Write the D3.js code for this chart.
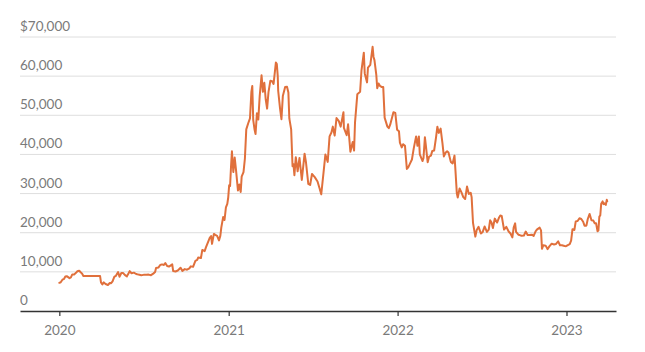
<!DOCTYPE html>
<html>
<head>
<meta charset="utf-8">
<script src="https://cdn.jsdelivr.net/npm/d3@7"></script>
<style>
  body { margin: 0; background: #fff; }
  svg { display: block; }
</style>
</head>
<body>
<div id="chart"><svg width="645" height="352"></svg></div>
<script>

// Bitcoin closing price
const priceDates = [
  "2020-01-01","2020-01-04","2020-01-08","2020-01-11","2020-01-14","2020-01-17","2020-01-20","2020-01-23","2020-01-26","2020-01-29",
  "2020-02-02","2020-02-06","2020-02-09","2020-02-13","2020-02-16","2020-02-19","2020-02-22","2020-03-29","2020-03-31","2020-04-03",
  "2020-04-06","2020-04-10","2020-04-15","2020-04-19","2020-04-22","2020-04-25","2020-04-29","2020-05-02","2020-05-07","2020-05-10",
  "2020-05-14","2020-05-18","2020-05-22","2020-05-26","2020-05-30","2020-06-01","2020-06-05","2020-06-10","2020-06-15","2020-06-20",
  "2020-06-26","2020-07-01","2020-07-07","2020-07-12","2020-07-17","2020-07-22","2020-07-26","2020-07-28","2020-08-02","2020-08-06",
  "2020-08-10","2020-08-14","2020-08-17","2020-08-21","2020-08-25","2020-09-01","2020-09-03","2020-09-08","2020-09-13","2020-09-19",
  "2020-09-23","2020-09-28","2020-10-03","2020-10-08","2020-10-11","2020-10-16","2020-10-21","2020-10-25","2020-10-27","2020-11-02",
  "2020-11-05","2020-11-10","2020-11-13","2020-11-18","2020-11-21","2020-11-24","2020-11-26","2020-11-30","2020-12-03","2020-12-07",
  "2020-12-11","2020-12-14","2020-12-16","2020-12-20","2020-12-23","2020-12-26","2020-12-29","2020-12-31",
  "2021-01-02","2021-01-04","2021-01-06","2021-01-08","2021-01-11","2021-01-14","2021-01-17","2021-01-21","2021-01-24","2021-01-27",
  "2021-01-29","2021-02-02","2021-02-05","2021-02-08","2021-02-12","2021-02-16","2021-02-19","2021-02-21","2021-02-23","2021-02-26",
  "2021-02-28","2021-03-03","2021-03-06","2021-03-09","2021-03-13","2021-03-16","2021-03-19","2021-03-22","2021-03-25","2021-03-28",
  "2021-04-01","2021-04-05","2021-04-08","2021-04-13","2021-04-15","2021-04-17","2021-04-18","2021-04-22","2021-04-25","2021-04-28",
  "2021-05-03","2021-05-07","2021-05-10","2021-05-12","2021-05-16","2021-05-19","2021-05-21","2021-05-23","2021-05-26","2021-05-30",
  "2021-06-03","2021-06-08","2021-06-14","2021-06-17","2021-06-22","2021-06-26","2021-06-30","2021-07-06","2021-07-12","2021-07-16",
  "2021-07-20","2021-07-25","2021-07-29","2021-08-03","2021-08-07","2021-08-11","2021-08-14","2021-08-18","2021-08-22","2021-08-27",
  "2021-08-31","2021-09-06","2021-09-07","2021-09-13","2021-09-16","2021-09-21","2021-09-26","2021-09-29","2021-10-01","2021-10-06",
  "2021-10-12","2021-10-15","2021-10-20","2021-10-22","2021-10-27","2021-10-29","2021-11-03","2021-11-08","2021-11-10","2021-11-12",
  "2021-11-16","2021-11-18","2021-11-21","2021-11-24","2021-11-28","2021-12-01","2021-12-04","2021-12-10","2021-12-13","2021-12-16",
  "2021-12-23","2021-12-27","2021-12-31",
  "2022-01-04","2022-01-06","2022-01-10","2022-01-13","2022-01-17","2022-01-21","2022-01-24","2022-01-28","2022-02-01","2022-02-05",
  "2022-02-10","2022-02-13","2022-02-16","2022-02-18","2022-02-24","2022-02-26","2022-03-01","2022-03-03","2022-03-07","2022-03-10",
  "2022-03-14","2022-03-17","2022-03-21","2022-03-25","2022-03-28","2022-03-31","2022-04-04","2022-04-08","2022-04-11","2022-04-15",
  "2022-04-18","2022-04-21","2022-04-26","2022-04-30","2022-05-04","2022-05-06","2022-05-09","2022-05-11","2022-05-15","2022-05-19",
  "2022-05-23","2022-05-27","2022-05-31","2022-06-04","2022-06-08","2022-06-10","2022-06-13","2022-06-18","2022-06-21","2022-06-25",
  "2022-06-30","2022-07-04","2022-07-08","2022-07-13","2022-07-17","2022-07-20","2022-07-23","2022-07-26","2022-07-30","2022-08-04",
  "2022-08-08","2022-08-11","2022-08-14","2022-08-19","2022-08-24","2022-08-29","2022-09-02","2022-09-06","2022-09-09","2022-09-12",
  "2022-09-14","2022-09-19","2022-09-22","2022-09-26","2022-10-01","2022-10-05","2022-10-09","2022-10-13","2022-10-18","2022-10-22",
  "2022-10-26","2022-10-29","2022-11-04","2022-11-07","2022-11-09","2022-11-12","2022-11-17","2022-11-21","2022-11-25","2022-11-30",
  "2022-12-05","2022-12-09","2022-12-14","2022-12-18","2022-12-22","2022-12-28","2022-12-31",
  "2023-01-04","2023-01-08","2023-01-11","2023-01-14","2023-01-18","2023-01-21","2023-01-25","2023-01-29","2023-02-02","2023-02-06",
  "2023-02-09","2023-02-13","2023-02-16","2023-02-20","2023-02-24","2023-02-28","2023-03-03","2023-03-06","2023-03-09","2023-03-11",
  "2023-03-13","2023-03-15","2023-03-17","2023-03-20","2023-03-22","2023-03-24","2023-03-27","2023-03-29","2023-03-30"
];

const priceValues = [
  7200,7350,8050,8150,8800,8900,8650,8400,8600,9350,
  9350,9750,10150,10300,9900,9600,8970,8970,7300,6800,
  7300,6900,6650,7150,7100,7550,8800,8950,9950,8750,
  9700,9700,9150,8850,9700,10200,9650,9800,9450,9300,
  9150,9230,9250,9300,9150,9550,9950,11000,11100,11750,
  11900,11750,12250,11500,11350,11900,10200,10100,10350,11050,
  10250,10700,10550,10900,11400,11300,12800,13050,13650,13550,
  15600,15300,16300,17800,18700,19150,17150,19700,19450,19200,
  18050,19250,21300,24000,23250,26450,27350,29000,
  32100,31950,36800,40800,35500,39200,35800,30800,32300,30400,
  34300,35500,38900,46400,47900,49200,55900,57500,48800,46300,
  45200,50500,48900,54900,60200,56000,58300,54100,51700,55900,
  58800,58700,58000,63500,63100,60000,56200,51700,49000,54900,
  57200,57300,55800,49200,46400,37000,37500,34700,39300,35700,
  39100,33500,40200,38000,32500,32200,35000,34200,33100,31500,
  29800,35400,40000,38100,44600,45600,47100,44800,49300,48500,
  47100,50800,46800,44900,47700,40700,43200,41000,48200,55400,
  56000,61500,66000,60700,58400,62200,62900,67500,64900,64100,
  60300,56900,58100,57500,57200,57200,49400,47100,46700,47600,
  50800,50600,46300,
  45900,43000,41800,42600,42200,36300,36700,37700,38700,41600,
  44600,42200,44600,40000,38300,39100,44400,42400,38000,39400,
  39700,40900,41000,44300,47100,45500,46600,42800,39500,40500,
  40800,40500,38100,37700,39700,36000,30100,29000,31300,30300,
  29100,28600,31800,29900,30200,29100,22500,19000,20700,21500,
  19800,20200,21600,20200,20800,23200,22600,21200,23600,22600,
  23800,24400,24300,20800,21500,20300,19800,18800,21400,22400,
  20200,19500,19400,19200,19300,20300,19400,19400,19500,19200,
  20300,20800,21300,20600,15900,16800,16700,15800,16500,17200,
  17000,17100,17800,16800,16800,16600,16550,
  16850,17100,17950,20900,20700,22900,23000,23700,23500,22800,
  21800,21800,23500,24800,23200,23100,22400,22400,20400,20600,
  24100,24400,27400,28000,27300,27500,27100,28400,28000
];

const yTicks = [0, 10000, 20000, 30000, 40000, 50000, 60000, 70000];
const yearTicks = ["2020-01-01", "2021-01-01", "2022-01-01", "2023-01-01"];

class PriceChart {

  constructor(dates, values) {
    this.svg = d3.select("#chart svg");
    this.width = parseInt(this.svg.attr("width"));
    this.height = parseInt(this.svg.attr("height"));
    this.margin = {left: 20, right: 29, top: 37, bottom: 41};

    let parse = d3.utcParse("%Y-%m-%d");
    this.data = dates.map((d, i) => ({date: parse(d), price: values[i]}));
    this.ticks = yearTicks.map(parse);

    this.x = d3.scaleUtc()
      .domain([parse("2019-10-08"), parse("2023-04-18")])
      .range([this.margin.left, this.width - this.margin.right]);

    this.y = d3.scaleLinear()
      .domain([0, 70000])
      .range([this.height - this.margin.bottom, this.margin.top]);

    this.drawGrid();
    this.drawAxis();
    this.drawLine();
  }

  drawGrid() {
    /* Horizontal gridlines with labels sitting above them */
    let fmt = d3.format(",");
    let g = this.svg.append("g");

    g.selectAll("line")
      .data(yTicks.filter(d => d > 0))
      .enter().append("line")
        .attr("x1", this.margin.left)
        .attr("x2", this.width - this.margin.right)
        .attr("y1", d => this.y(d))
        .attr("y2", d => this.y(d))
        .attr("stroke", "#dedede")
        .attr("stroke-width", 1);

    g.selectAll("text")
      .data(yTicks)
      .enter().append("text")
        .attr("x", this.margin.left)
        .attr("y", d => this.y(d) - 6)
        .attr("font-family", "Lato, 'Open Sans', sans-serif")
        .attr("font-size", 13.5)
        .attr("fill", "#7a7a7a")
        .text(d => d === 70000 ? "$" + fmt(d) : fmt(d));
  }

  drawAxis() {
    /* Bottom axis: dark baseline, small ticks, year labels */
    let axis = d3.axisBottom(this.x)
      .tickValues(this.ticks)
      .tickFormat(d3.utcFormat("%Y"))
      .tickSize(5)
      .tickSizeOuter(0)
      .tickPadding(9);

    let g = this.svg.append("g")
      .attr("transform", "translate(0," + this.y(0) + ")")
      .call(axis);

    g.select(".domain")
      .attr("stroke", "#333")
      .attr("stroke-width", 1.6);
    g.selectAll(".tick line")
      .attr("stroke", "#333")
      .attr("stroke-width", 1.2);
    g.selectAll(".tick text")
      .attr("font-family", "Lato, 'Open Sans', sans-serif")
      .attr("font-size", 13.5)
      .attr("fill", "#7a7a7a");
  }

  drawLine() {
    let line = d3.line()
      .x(d => this.x(d.date))
      .y(d => this.y(d.price));

    this.svg.append("path")
      .datum(this.data)
      .attr("d", line)
      .attr("fill", "none")
      .attr("stroke", "#e0703c")
      .attr("stroke-width", 2)
      .attr("stroke-linejoin", "round")
      .attr("stroke-linecap", "round");
  }
}

new PriceChart(priceDates, priceValues);
</script>
</body>
</html>
